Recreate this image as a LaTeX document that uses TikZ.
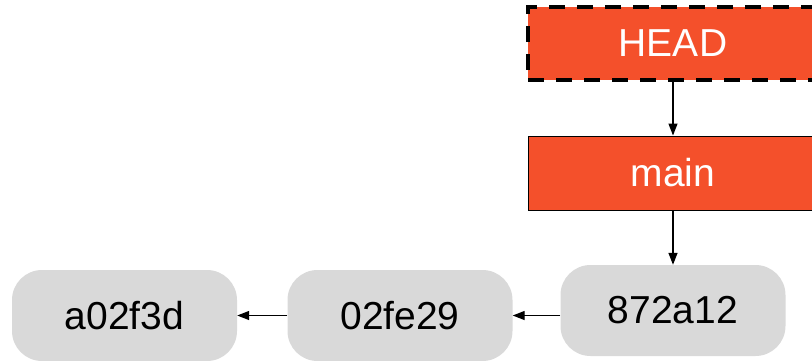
\documentclass[tikz,border=0pt]{standalone}
\usepackage{fontspec}
\setmainfont{Liberation Sans}
\usetikzlibrary{arrows.meta}
\definecolor{gitred}{HTML}{F4502B}
\definecolor{commitgray}{HTML}{D9D9D9}
\begin{document}
\begin{tikzpicture}[x=1pt,y=-1pt,
  refbox/.style={draw=black, fill=gitred, line width=1pt, minimum width=290pt,
    minimum height=74pt, inner sep=0pt, text=white, font=\fontsize{39}{39}\selectfont},
  headbox/.style={refbox, line width=4pt, dash pattern=on 16pt off 12pt, minimum height=73pt},
  commit/.style={fill=commitgray, draw=none, rounded corners=30pt, minimum width=225pt,
    minimum height=91pt, inner sep=0pt, text=black, font=\fontsize{39}{39}\selectfont},
  link/.style={draw=black, line width=1.3pt, -{Triangle[length=12pt,width=9pt]}}]
\useasboundingbox (0,0) rectangle (812,360);
\clip (0,0) rectangle (812,360);
\node[headbox] (head) at (673,43.5) {HEAD};
\node[refbox] (main) at (673,173) {main};
\node[commit] (c3) at (673,310.5) {872a12};
\node[commit] (c2) at (400,315.5) {02fe29};
\node[commit] (c1) at (124.5,315.5) {a02f3d};
\draw[link] (head.south) -- (main.north);
\draw[link] (main.south) -- (c3.north);
\draw[link] (c3.west |- c2.center) -- (c2.east);
\draw[link] (c2.west) -- (c1.east);
\end{tikzpicture}
\end{document}
